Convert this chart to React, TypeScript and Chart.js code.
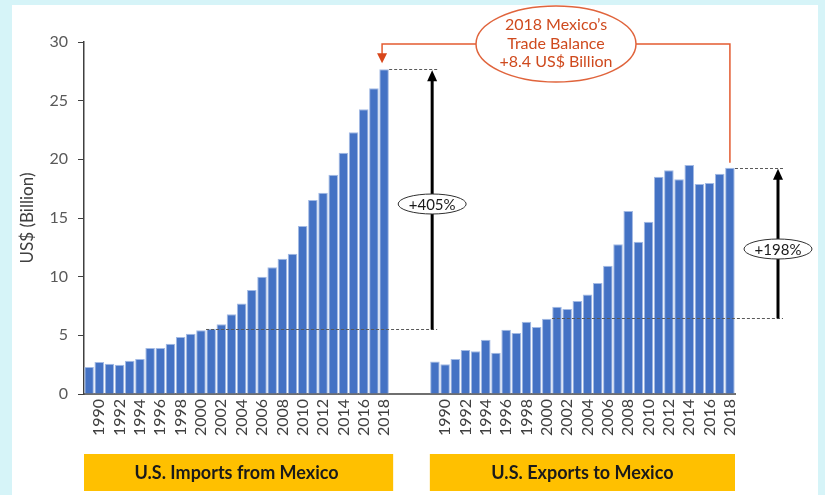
import React, { useEffect, useRef } from 'react';
import { Chart, registerables } from 'chart.js';

Chart.register(...registerables);

// ---------- data ----------
const years = [
  '1989', '1990', '1991', '1992', '1993', '1994', '1995', '1996', '1997', '1998',
  '1999', '2000', '2001', '2002', '2003', '2004', '2005', '2006', '2007', '2008',
  '2009', '2010', '2011', '2012', '2013', '2014', '2015', '2016', '2017', '2018',
];
const shownYearLabels = [
  '1990', '1992', '1994', '1996', '1998', '2000', '2002', '2004',
  '2006', '2008', '2010', '2012', '2014', '2016', '2018',
];
const importsFromMexico = [
  2.30, 2.73, 2.58, 2.50, 2.84, 2.98, 3.92, 3.92, 4.29, 4.86,
  5.14, 5.43, 5.57, 5.94, 6.79, 7.72, 8.86, 10.0, 10.8, 11.53,
  11.96, 14.32, 16.53, 17.16, 18.69, 20.57, 22.3, 24.26, 26.05, 27.67,
];
const exportsToMexico = [
  2.76, 2.53, 2.98, 3.75, 3.64, 4.63, 3.52, 5.48, 5.20, 6.16,
  5.71, 6.42, 7.44, 7.24, 7.93, 8.48, 9.46, 10.94, 12.76, 15.6,
  12.98, 14.69, 18.52, 19.06, 18.3, 19.52, 17.9, 17.98, 18.78, 19.29,
];
const gapLabels = ['', '', '', ''];
const yTicks = [0, 5, 10, 15, 20, 25, 30];
const groupTitles = ['U.S. Imports from Mexico', 'U.S. Exports to Mexico'];
const growthLabels = ['+405%', '+198%'];
const baselineValues = [5.5, 6.45];
const baselineStartIndex = 12;
const calloutLines = ['2018 Mexico\u2019s', 'Trade Balance', '+8.4 US$ Billion'];
const yTitle = 'US$ (Billion)';

const categories = [...years, ...gapLabels, ...years];
const values: (number | null)[] = [
  ...importsFromMexico,
  ...gapLabels.map(() => null),
  ...exportsToMexico,
];

const FONT = 'Lato, "Open Sans", "DejaVu Sans", sans-serif';

function arrowHead(ctx: CanvasRenderingContext2D, x: number, tipY: number, dir: number, w: number, h: number, color: string) {
  ctx.save();
  ctx.fillStyle = color;
  ctx.beginPath();
  ctx.moveTo(x, tipY);
  ctx.lineTo(x - w / 2, tipY - dir * h);
  ctx.lineTo(x + w / 2, tipY - dir * h);
  ctx.closePath();
  ctx.fill();
  ctx.restore();
}

function ellipse(ctx: CanvasRenderingContext2D, cx: number, cy: number, rx: number, ry: number, stroke: string, lw: number) {
  ctx.save();
  ctx.beginPath();
  ctx.ellipse(cx, cy, rx, ry, 0, 0, Math.PI * 2);
  ctx.fillStyle = '#ffffff';
  ctx.fill();
  ctx.strokeStyle = stroke;
  ctx.lineWidth = lw;
  ctx.stroke();
  ctx.restore();
}

function dashed(ctx: CanvasRenderingContext2D, x1: number, x2: number, y: number) {
  ctx.save();
  ctx.strokeStyle = '#595959';
  ctx.lineWidth = 1;
  ctx.setLineDash([3, 2]);
  ctx.beginPath();
  ctx.moveTo(x1, Math.round(y) + 0.5);
  ctx.lineTo(x2, Math.round(y) + 0.5);
  ctx.stroke();
  ctx.restore();
}

const backgroundPlugin = {
  id: 'bgPanel',
  beforeDraw(chart: any) {
    const ctx = chart.ctx as CanvasRenderingContext2D;
    ctx.save();
    ctx.fillStyle = '#D6F4F8';
    ctx.fillRect(0, 0, chart.width, chart.height);
    ctx.fillStyle = '#ffffff';
    ctx.fillRect(12, 5, 806, chart.height - 5);
    ctx.restore();
  },
};

const annotationPlugin = {
  id: 'annotations',
  afterDraw(chart: any) {
    const ctx = chart.ctx as CanvasRenderingContext2D;
    const xs = chart.scales.x;
    const ys = chart.scales.y;
    const area = chart.chartArea;
    const slot = xs.getPixelForValue(1) - xs.getPixelForValue(0);
    const nImp = importsFromMexico.length;
    const expStart = nImp + gapLabels.length;
    const expLast = expStart + exportsToMexico.length - 1;

    // y axis title
    ctx.save();
    ctx.translate(28, (area.top + area.bottom) / 2);
    ctx.rotate(-Math.PI / 2);
    ctx.fillStyle = '#404040';
    ctx.font = '17px ' + FONT;
    ctx.textAlign = 'center';
    ctx.textBaseline = 'middle';
    ctx.fillText(yTitle, 0, 0);
    ctx.restore();

    const groups = [
      { first: 0, last: nImp - 1, data: importsFromMexico },
      { first: expStart, last: expLast, data: exportsToMexico },
    ];
    groups.forEach((g, i) => {
      const right = xs.getPixelForValue(g.last) + slot / 2;
      const left = xs.getPixelForValue(g.first) - slot / 2;
      const topY = ys.getPixelForValue(g.data[g.data.length - 1]);
      const baseY = ys.getPixelForValue(baselineValues[i]);
      const dashEnd = right + 48;
      const ax = right + 43;
      dashed(ctx, right, dashEnd, topY);
      dashed(ctx, xs.getPixelForValue(g.first + baselineStartIndex) - slot / 2, dashEnd, baseY);
      // arrow
      ctx.save();
      ctx.strokeStyle = '#000000';
      ctx.lineWidth = 3;
      ctx.beginPath();
      ctx.moveTo(ax, baseY);
      ctx.lineTo(ax, topY + 9);
      ctx.stroke();
      ctx.restore();
      arrowHead(ctx, ax, topY + 1, -1, 10, 11, '#000000');
      // growth ellipse label
      const cy = i === 0 ? 204 : 249;
      ellipse(ctx, ax, cy, 34, 10, '#303030', 1);
      ctx.save();
      ctx.fillStyle = '#1a1a1a';
      ctx.font = '15px ' + FONT;
      ctx.textAlign = 'center';
      ctx.textBaseline = 'middle';
      ctx.fillText(growthLabels[i], ax, cy + 1);
      ctx.restore();
      // group title boxes
      ctx.save();
      ctx.fillStyle = '#FFC000';
      ctx.fillRect(left, 454, right - left + (i === 0 ? 4 : 0), 37);
      ctx.fillStyle = '#1a1a1a';
      ctx.font = 'bold 18px ' + FONT;
      ctx.textAlign = 'center';
      ctx.textBaseline = 'middle';
      ctx.fillText(groupTitles[i], (left + right) / 2, 473);
      ctx.restore();
    });

    // trade balance callout
    const impCx = xs.getPixelForValue(nImp - 1);
    const expCx = xs.getPixelForValue(expLast);
    const impTop = ys.getPixelForValue(importsFromMexico[nImp - 1]);
    const expTop = ys.getPixelForValue(exportsToMexico[exportsToMexico.length - 1]);
    const ecx = 556, ecy = 44, erx = 80, ery = 38;
    ctx.save();
    ctx.strokeStyle = '#E35B30';
    ctx.lineWidth = 1.5;
    ctx.beginPath();
    ctx.moveTo(ecx - erx, ecy);
    ctx.lineTo(impCx - 2, ecy);
    ctx.lineTo(impCx - 2, impTop - 14);
    ctx.moveTo(ecx + erx, ecy);
    ctx.lineTo(expCx, ecy);
    ctx.lineTo(expCx, expTop - 5);
    ctx.stroke();
    ctx.restore();
    arrowHead(ctx, impCx - 2, impTop - 6, 1, 10, 10, '#D8461A');
    ellipse(ctx, ecx, ecy, erx, ery, '#E0643C', 1.5);
    ctx.save();
    ctx.fillStyle = '#CF4A1E';
    ctx.font = '16px ' + FONT;
    ctx.textAlign = 'center';
    ctx.textBaseline = 'middle';
    calloutLines.forEach((t, k) => ctx.fillText(t, ecx, 25 + k * 18.5));
    ctx.restore();
  },
};

export default function App() {
  const ref = useRef<HTMLCanvasElement | null>(null);
  useEffect(() => {
    document.body.style.margin = '0';
    const canvas = ref.current;
    if (!canvas) return;
    const chart = new Chart(canvas, {
      type: 'bar',
      data: {
        labels: categories,
        datasets: [
          {
            data: values,
            backgroundColor: '#4472C4',
            borderColor: '#A3BAE4',
            borderWidth: 1,
            barPercentage: 0.94,
            categoryPercentage: 1,
          },
        ],
      },
      options: {
        responsive: false,
        animation: false,
        devicePixelRatio: 1,
        layout: { padding: { left: 0, right: 90, top: 42, bottom: 0 } },
        plugins: { legend: { display: false }, tooltip: { enabled: false } },
        scales: {
          x: {
            type: 'category',
            offset: true,
            grid: { display: true, drawOnChartArea: false, drawTicks: false, color: 'rgba(0,0,0,0)' },
            border: { display: true, color: '#6f6f6f', width: 2 },
            ticks: {
              autoSkip: false,
              minRotation: 90,
              maxRotation: 90,
              padding: 5,
              color: '#404040',
              font: { family: FONT, size: 16 },
              callback: (_v: any, idx: number) => {
                const l = categories[idx];
                return shownYearLabels.includes(l) ? l : '';
              },
            },
            afterFit: (s: any) => { s.height = 101; },
          },
          y: {
            min: yTicks[0],
            max: yTicks[yTicks.length - 1],
            afterBuildTicks: (s: any) => { s.ticks = yTicks.map((v) => ({ value: v })); },
            ticks: { padding: 10, color: '#595959', font: { family: FONT, size: 16 } },
            grid: { drawOnChartArea: false, drawTicks: true, tickLength: 6, color: '#404040' },
            border: { display: true, color: '#404040', width: 1.5 },
            afterFit: (s: any) => { s.width = 84; },
          },
        },
      },
      plugins: [backgroundPlugin, annotationPlugin],
    } as any);
    return () => chart.destroy();
  }, []);
  return (
    <div style={{ width: 825, height: 495 }}>
      <canvas ref={ref} width={825} height={495} style={{ display: 'block', width: 825, height: 495 }} />
    </div>
  );
}
